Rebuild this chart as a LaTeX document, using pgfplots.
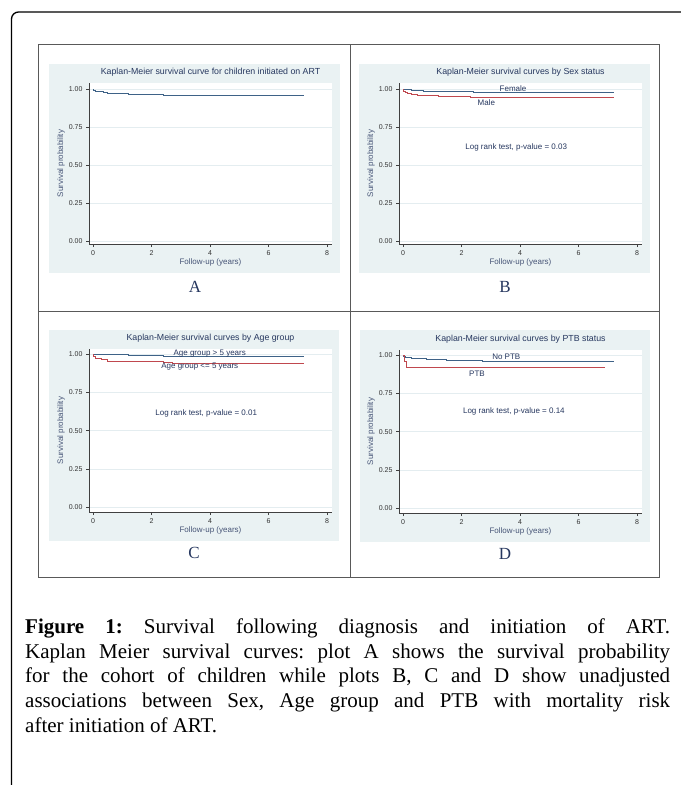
\documentclass[border=0pt]{standalone}
\usepackage{fontspec}
\setmainfont{Liberation Sans}
\newfontfamily\capfont{Liberation Serif}
\usepackage{pgfplots}
\pgfplotsset{compat=1.18}
\frenchspacing

\definecolor{panelbg}{RGB}{234,242,243}
\definecolor{kmblue}{RGB}{62,98,135}
\definecolor{kmred}{RGB}{192,72,78}
\definecolor{stnavy}{RGB}{38,55,95}
\definecolor{gridc}{RGB}{228,237,240}

\pgfplotsset{
  kmstyle/.style={
    scale only axis, width=243bp,
    xmin=-0.137, xmax=8.17,
    axis lines=left, axis line style={-, black!75, line width=0.6bp},
    axis background/.style={fill=white},
    xtick={0,2,4,6,8}, ytick={0,0.25,0.5,0.75,1},
    yticklabels={0.00,0.25,0.50,0.75,1.00},
    tick align=outside, major tick length=3bp,
    tick style={black!75, line width=0.5bp},
    ymajorgrids, grid style={gridc, line width=0.7bp},
    tick label style={font=\fontsize{7bp}{8bp}\selectfont, text=black!80},
    /pgf/number format/assume math mode=true,
    xlabel={Follow-up (years)}, ylabel={Survival probability},
    label style={font=\fontsize{8bp}{9bp}\selectfont, text=stnavy!85},
    xlabel style={at={(axis description cs:0.5,-0.112)}, anchor=center},
    ylabel style={at={(axis description cs:-0.115,0.5)}, anchor=center},
    title style={font=\fontsize{8.8bp}{10bp}\selectfont, text=stnavy,
      at={(axis description cs:0.5,1)}, anchor=base, yshift=3bp, inner sep=0pt},
    clip=false,
  },
  toprow/.style={height=161bp, ymin=-0.02, ymax=1.04},
  botrow/.style={height=163bp, ymin=-0.03, ymax=1.033},
  km/.style={const plot, no marks, line width=0.9bp},
}
\tikzset{ann/.style={font=\fontsize{8bp}{9bp}\selectfont, text=stnavy, inner sep=0pt}}

\pgfplotstableread{
t s
0 1
0.02 0.994
0.05 0.990
0.1 0.986
0.2 0.982
0.35 0.978
0.5 0.974
0.8 0.970
1.2 0.967
1.6 0.964
2.0 0.963
2.4 0.961
2.7 0.958
7.2 0.958
}\tabA

\pgfplotstableread{
t s
0 1
0.3 0.993
0.7 0.985
2.4 0.980
2.6 0.976
7.2 0.976
}\tabBfemale

\pgfplotstableread{
t s
0 1
0.03 0.985
0.08 0.975
0.15 0.968
0.3 0.962
0.5 0.955
1.2 0.951
1.4 0.949
2.3 0.944
7.2 0.944
}\tabBmale

\pgfplotstableread{
t s
0 1
0.05 0.995
1.2 0.988
2.4 0.982
7.2 0.982
}\tabCold

\pgfplotstableread{
t s
0 1
0.03 0.985
0.1 0.974
0.3 0.963
0.5 0.953
1.0 0.951
2.4 0.945
2.7 0.940
7.2 0.940
}\tabCyoung

\pgfplotstableread{
t s
0 1
0.02 0.990
0.1 0.985
0.3 0.980
0.5 0.975
0.8 0.971
1.5 0.968
2.4 0.963
2.7 0.960
7.2 0.960
}\tabDno

\pgfplotstableread{
t s
0 1
0.05 0.960
0.12 0.920
6.9 0.920
}\tabDptb

\begin{document}
\begin{tikzpicture}
\useasboundingbox (0,0) rectangle (681bp,-785bp);
\begin{scope}[x=1bp,y=-1bp]
  \fill[white] (0,0) rectangle (681,785);
  \draw[line width=1.3bp, rounded corners=7bp] (11.5,800) -- (11.5,12) -- (700,12);
  \fill[panelbg] (49,64) rectangle (340,273);
  \fill[panelbg] (359,64) rectangle (650,273);
  \fill[panelbg] (49,330) rectangle (339,541);
  \fill[panelbg] (360,330) rectangle (650,542);
  \draw[black!65, line width=1bp] (38.5,44.5) rectangle (659,577);
  \draw[black!65, line width=1bp] (350,44.5) -- (350,577);
  \draw[black!65, line width=1bp] (38.5,311) -- (659,311);
  \begin{scope}[font=\capfont\fontsize{17bp}{18bp}\selectfont, text=stnavy]
    \node at (195,287) {A};
    \node at (505,287) {B};
    \node at (194,553) {C};
    \node at (505,554) {D};
  \end{scope}
  \node[anchor=north west, inner sep=0pt, text width=645bp, align=justify,
        font=\capfont\fontsize{21bp}{24.75bp}\selectfont] at (25,618.5) {%
    \textbf{Figure 1:} Survival following diagnosis and initiation of ART.\linebreak
    Kaplan Meier survival curves: plot A shows the survival probability\linebreak
    for the cohort of children while plots B, C and D show unadjusted\linebreak
    associations between Sex, Age group and PTB with mortality risk\linebreak
    after initiation of ART.};
\end{scope}

% Panel A
\begin{axis}[kmstyle, toprow, at={(89bp,-83bp)}, anchor=north west,
  title={Kaplan-Meier survival curve for children initiated on ART}]
  \addplot[km, kmblue] table[x=t,y=s] {\tabA};
\end{axis}

% Panel B
\begin{axis}[kmstyle, toprow, at={(399bp,-83bp)}, anchor=north west,
  title={Kaplan-Meier survival curves by Sex status}]
  \addplot[km, kmblue] table[x=t,y=s] {\tabBfemale};
  \addplot[km, kmred] table[x=t,y=s] {\tabBmale};
  \node[ann] at (axis cs:3.76,1.0) {Female};
  \node[ann] at (axis cs:2.85,0.908) {Male};
  \node[ann] at (axis cs:3.87,0.618) {Log rank test, p-value = 0.03};
\end{axis}

% Panel C
\begin{axis}[kmstyle, botrow, at={(89bp,-349bp)}, anchor=north west,
  title={Kaplan-Meier survival curves by Age group}]
  \addplot[km, kmblue] table[x=t,y=s] {\tabCold};
  \addplot[km, kmred] table[x=t,y=s] {\tabCyoung};
  \node[ann] at (axis cs:3.99,1.006) {Age group > 5 years};
  \node[ann] at (axis cs:3.65,0.919) {Age group <= 5 years};
  \node[ann] at (axis cs:3.87,0.613) {Log rank test, p-value = 0.01};
\end{axis}

% Panel D
\begin{axis}[kmstyle, botrow, at={(399bp,-350bp)}, anchor=north west,
  title={Kaplan-Meier survival curves by PTB status}]
  \addplot[km, kmblue] table[x=t,y=s] {\tabDno};
  \addplot[km, kmred] table[x=t,y=s] {\tabDptb};
  \node[ann] at (axis cs:3.53,0.989) {No PTB};
  \node[ann] at (axis cs:2.53,0.88) {PTB};
  \node[ann] at (axis cs:3.79,0.633) {Log rank test, p-value = 0.14};
\end{axis}
\end{tikzpicture}
\end{document}
